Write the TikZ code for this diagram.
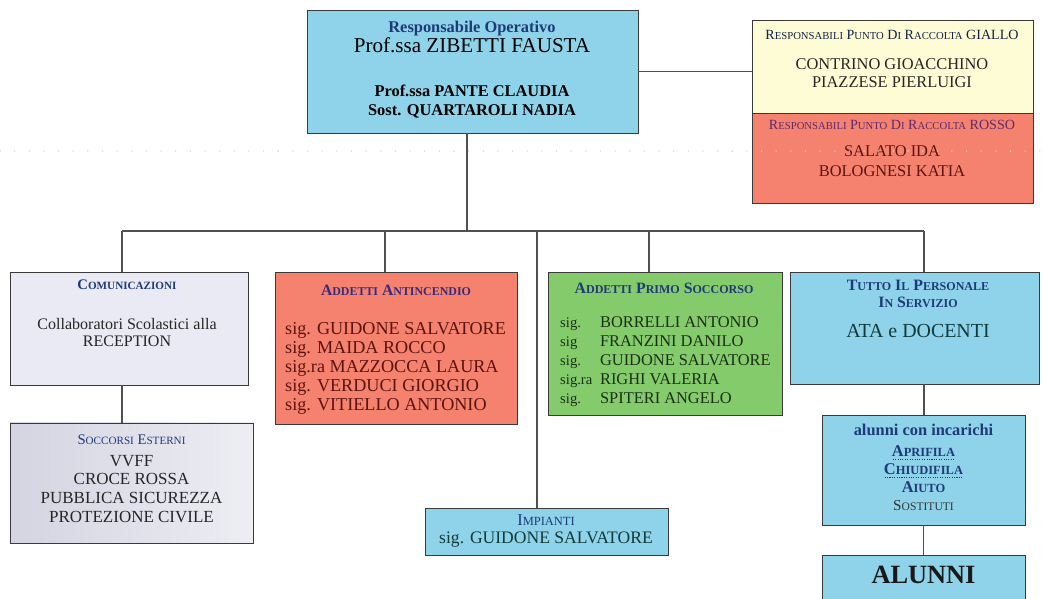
\documentclass[tikz,border=0pt]{standalone}
\usepackage{fontspec}
\setmainfont{Liberation Serif}
\definecolor{skyblue}{HTML}{8ED3E9}
\definecolor{paleyellow}{HTML}{FDFCD4}
\definecolor{salmon}{HTML}{F4826F}
\definecolor{grass}{HTML}{84CC6B}
\definecolor{lavender}{HTML}{EAEAF4}
\definecolor{soccA}{HTML}{D4D4E2}
\definecolor{soccB}{HTML}{EDEDF3}
\definecolor{navy}{HTML}{1F3A78}
\definecolor{plum}{HTML}{5E2A6E}
\definecolor{plumnavy}{HTML}{3A2A7A}
\definecolor{darkred}{HTML}{5C1410}
\definecolor{darkgreen}{HTML}{1B2E14}
\definecolor{tealdark}{HTML}{123A3A}
\definecolor{boxline}{HTML}{3A3A3A}
\definecolor{wirecol}{HTML}{505050}
\newcommand{\setfs}[2]{\fontsize{#1}{#2}\selectfont}
\newcommand{\ksc}[1]{\scalebox{0.76}{#1}}
\newcommand{\dotul}[1]{\setbox0\hbox{#1}\rlap{\raisebox{-2.6pt}[0pt][0pt]{%
  \hbox to\wd0{\xleaders\hbox to 2pt{\hss\rule{0.9pt}{0.6pt}\hss}\hfill}}}\box0}

\begin{document}
\begin{tikzpicture}[x=0.03cm, y=-0.03cm,
    orgbox/.style={draw=boxline, line width=0.8pt, inner sep=0pt, outer sep=0pt},
    boxtext/.style={inner sep=0pt, align=center},
    link/.style={draw=wirecol, line width=0.9pt}]
    \useasboundingbox (0,0) rectangle (1043,599);
    \clip (0,0) rectangle (1043,599);

    \node[orgbox, fill=skyblue, minimum width=9.93cm, minimum height=3.69cm] (head) at (472.5,71.5) {};
    \node[orgbox, fill=paleyellow, minimum width=8.43cm, minimum height=2.79cm] (giallo) at (892.5,66.5) {};
    \node[orgbox, fill=salmon, minimum width=8.43cm, minimum height=2.70cm] (rosso) at (892.5,158) {};
    \node[orgbox, fill=lavender, minimum width=7.14cm, minimum height=3.39cm] (comm) at (129,328.5) {};
    \node[orgbox, left color=soccA, right color=soccB, minimum width=7.29cm, minimum height=3.6cm] (ext) at (131.5,483) {};
    \node[orgbox, fill=salmon, minimum width=7.26cm, minimum height=4.56cm] (fire) at (396,348) {};
    \node[orgbox, fill=grass, minimum width=7.02cm, minimum height=4.29cm] (aid) at (665,343.5) {};
    \node[orgbox, fill=skyblue, minimum width=7.47cm, minimum height=3.36cm] (staff) at (914.5,328) {};
    \node[orgbox, fill=skyblue, minimum width=7.29cm, minimum height=1.41cm] (plant) at (546.5,531.5) {};
    \node[orgbox, fill=skyblue, minimum width=6.09cm, minimum height=3.3cm] (duty) at (923.5,470) {};
    \node[orgbox, fill=skyblue, minimum width=6.09cm, minimum height=2.1cm] (pupils) at (923.5,590) {};

    \node[boxtext, font=\setfs{14}{16.5}] (headT) at (472,70)
      {{\color{navy}\bfseries Responsabile Operativo}\\
       {\setfs{18}{16.5}Prof.ssa ZIBETTI FAUSTA}\\[21.5pt]
       {\bfseries Prof.ssa PANTE CLAUDIA}\\
       {\bfseries Sost. QUARTAROLI NADIA}};
    \node[boxtext, font=\setfs{14}{15.5}, text=black!85] (gialloT) at (892,59)
      {{\setfs{12}{15.5}\color{navy!60!black}R\ksc{ESPONSABILI} P\ksc{UNTO} D\ksc{I} R\ksc{ACCOLTA} GIALLO}\\[10pt]
       CONTRINO GIOACCHINO\\ PIAZZESE PIERLUIGI};
    \node[boxtext, font=\setfs{14}{17}, text=darkred] (rossoT) at (892,148.5)
      {{\setfs{12}{17}\color{plum}R\ksc{ESPONSABILI} P\ksc{UNTO} D\ksc{I} R\ksc{ACCOLTA} ROSSO}\\[6pt]
       SALATO IDA\\ BOLOGNESI KATIA};
    \node[boxtext, font=\setfs{13.7}{14.5}, text=black!85] (commT) at (127,313.5)
      {{\setfs{12.5}{14.5}\bfseries\color{navy}C\ksc{OMUNICAZIONI}}\\[19.5pt]
       Collaboratori Scolastici alla\\ RECEPTION};
    \node[boxtext, font=\setfs{14.5}{16}, text=black!85] (extT) at (131.5,478.5)
      {{\setfs{12.5}{16}\color{navy}S\ksc{OCCORSI} E\ksc{STERNI}}\\[2.7pt]
       VVFF\\ CROCE ROSSA\\ PUBBLICA SICUREZZA\\ PROTEZIONE CIVILE};
    \node[boxtext, font=\setfs{13.4}{15}\bfseries, text=plumnavy] (fireT) at (396,290)
      {A\ksc{DDETTI} A\ksc{NTINCENDIO}};
    \node[boxtext, align=left, anchor=west, font=\setfs{15.5}{16.4}, text=darkred] (fireN) at (285,368.5)
      {sig. GUIDONE SALVATORE\\ sig. MAIDA ROCCO\\ sig.ra MAZZOCCA LAURA\\
       sig. VERDUCI GIORGIO\\ sig. VITIELLO ANTONIO};
    \node[boxtext, font=\setfs{13.5}{15}\bfseries, text=navy] (aidT) at (664,288)
      {A\ksc{DDETTI} P\ksc{RIMO} S\ksc{OCCORSO}};
    \node[boxtext, align=left, anchor=west, font=\setfs{14}{16.2}, text=darkgreen] (aidN) at (560,362)
      {\makebox[34pt][l]{\setfs{12.5}{16.2}sig.}BORRELLI ANTONIO\\
       \makebox[34pt][l]{\setfs{12.5}{16.2}sig}FRANZINI DANILO\\
       \makebox[34pt][l]{\setfs{12.5}{16.2}sig.}GUIDONE SALVATORE\\
       \makebox[34pt][l]{\setfs{12.5}{16.2}sig.ra}RIGHI VALERIA\\
       \makebox[34pt][l]{\setfs{12.5}{16.2}sig.}SPITERI ANGELO};
    \node[boxtext, font=\setfs{13.5}{14.5}\bfseries, text=navy] (staffT) at (918,309)
      {T\ksc{UTTO} I\ksc{L} P\ksc{ERSONALE}\\ I\ksc{N} S\ksc{ERVIZIO}\\[11.5pt]
       {\mdseries\setfs{17}{14.5}\color{tealdark}ATA e DOCENTI}};
    \node[boxtext, font=\setfs{15}{15.3}, text=tealdark] (plantT) at (546,531)
      {{\setfs{14}{15.3}\color{navy}I\ksc{MPIANTI}}\\ sig. GUIDONE SALVATORE};
    \node[boxtext, font=\setfs{14}{15.5}\bfseries, text=navy] (dutyT) at (923.5,467.5)
      {alunni con incarichi\\[2.5pt]
       \dotul{A\ksc{PRIFILA}}\\
       \dotul{C\ksc{HIUDIFILA}}\\
       A\ksc{IUTO}\\
       {\mdseries\setfs{13}{15.5}\color{black!80}S\ksc{OSTITUTI}}};
    \node[boxtext, font=\setfs{22.5}{24}\bfseries, text=black!90] (pupilsT) at (923.5,575) {ALUNNI};

    \coordinate (hub) at (467,231);
    \coordinate (b1) at (122,231);
    \coordinate (b2) at (385,231);
    \coordinate (b3) at (537,231);
    \coordinate (b4) at (649,231);
    \coordinate (b5) at (924,231);
    \draw[link] (head.east) -- (head.east -| giallo.west);
    \draw[link] (head.south -| hub) -- (hub);
    \draw[link] (b1) -- (b5);
    \draw[link] (b1) -- (b1 |- comm.north);
    \draw[link] (b2) -- (b2 |- fire.north);
    \draw[link] (b3) -- (b3 |- plant.north);
    \draw[link] (b4) -- (b4 |- aid.north);
    \draw[link] (b5) -- (b5 |- staff.north);
    \draw[link] (comm.south -| b1) -- (b1 |- ext.north);
    \draw[link] (staff.south -| b5) -- (b5 |- duty.north);
    \draw[link] (duty.south) -- (pupils.north);

    \draw[gray!35, line width=1.3pt, line cap=round, dash pattern=on 0pt off 12.5pt] (0,151) -- (1043,151);
\end{tikzpicture}
\end{document}
